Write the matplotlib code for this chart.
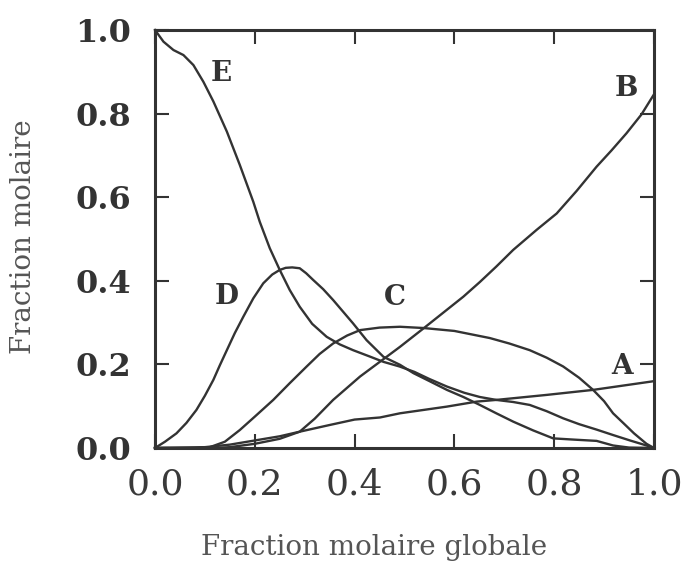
import matplotlib
matplotlib.use("Agg")
import matplotlib.pyplot as plt

# values (x = fraction molaire globale)
e_x = [0, 0.017, 0.037, 0.057, 0.077, 0.097, 0.117, 0.144, 0.17, 0.197, 0.21, 0.23, 0.25,
       0.27, 0.29, 0.315, 0.344, 0.37, 0.397, 0.43, 0.458, 0.49, 0.52, 0.55, 0.585, 0.62,
       0.651, 0.684, 0.718, 0.751, 0.785, 0.818, 0.85, 0.885, 0.918, 0.952, 0.985, 1.0]
e_y = [1.0, 0.972, 0.952, 0.940, 0.916, 0.876, 0.829, 0.757, 0.677, 0.589, 0.541, 0.478, 0.426,
       0.378, 0.338, 0.297, 0.266, 0.248, 0.234, 0.219, 0.206, 0.195, 0.182, 0.165, 0.147, 0.132,
       0.122, 0.115, 0.110, 0.103, 0.088, 0.071, 0.057, 0.044, 0.031, 0.018, 0.006, 0.0]

d_x = [0, 0.02, 0.043, 0.063, 0.083, 0.1, 0.117, 0.13, 0.144, 0.16, 0.177, 0.197, 0.217, 0.235,
       0.25, 0.262, 0.275, 0.29, 0.303, 0.317, 0.337, 0.357, 0.377, 0.397, 0.424, 0.458, 0.491,
       0.518, 0.55, 0.585, 0.618, 0.651, 0.684, 0.718, 0.758, 0.798, 0.84, 0.885, 0.918, 0.95, 1.0]
d_y = [0, 0.015, 0.035, 0.06, 0.091, 0.125, 0.163, 0.198, 0.234, 0.275, 0.314, 0.358, 0.394, 0.415,
       0.426, 0.431, 0.432, 0.43, 0.418, 0.402, 0.38, 0.354, 0.326, 0.298, 0.258, 0.218, 0.199,
       0.179, 0.16, 0.139, 0.122, 0.103, 0.083, 0.063, 0.042, 0.023, 0.02, 0.017, 0.006, 0.001, 0.0]

c_x = [0, 0.08, 0.11, 0.14, 0.17, 0.2, 0.237, 0.27, 0.304, 0.33, 0.357, 0.385, 0.411, 0.45,
       0.491, 0.538, 0.6, 0.671, 0.71, 0.751, 0.785, 0.818, 0.85, 0.878, 0.9, 0.918, 0.94,
       0.96, 0.985, 1.0]
c_y = [0, 0, 0.002, 0.015, 0.043, 0.075, 0.115, 0.155, 0.195, 0.225, 0.25, 0.269, 0.282, 0.288,
       0.29, 0.287, 0.28, 0.263, 0.25, 0.234, 0.216, 0.195, 0.168, 0.139, 0.112, 0.083, 0.058,
       0.035, 0.01, 0.0]

b_x = [0, 0.12, 0.15, 0.2, 0.25, 0.29, 0.32, 0.357, 0.411, 0.464, 0.491, 0.538, 0.578, 0.618,
       0.651, 0.684, 0.718, 0.765, 0.805, 0.845, 0.885, 0.915, 0.945, 0.975, 1.0]
b_y = [0, 0, 0.002, 0.01, 0.022, 0.039, 0.07, 0.115, 0.171, 0.218, 0.242, 0.286, 0.324, 0.362,
       0.397, 0.434, 0.474, 0.522, 0.561, 0.615, 0.673, 0.712, 0.753, 0.798, 0.846]

a_x = [0, 0.1, 0.15, 0.2, 0.25, 0.29, 0.35, 0.4, 0.451, 0.491, 0.585, 0.645, 0.684, 0.785,
       0.878, 0.995, 1.0]
a_y = [0, 0.002, 0.008, 0.018, 0.028, 0.039, 0.055, 0.068, 0.073, 0.083, 0.099, 0.111, 0.115,
       0.127, 0.139, 0.159, 0.16]

curve_names = ["E", "D", "C", "B", "A"]
label_pos = {"E": (0.133, 0.897), "D": (0.144, 0.362), "C": (0.48, 0.359),
             "B": (0.944, 0.861), "A": (0.937, 0.195)}

ticks = [0.0, 0.2, 0.4, 0.6, 0.8, 1.0]
tick_labels = ["0.0", "0.2", "0.4", "0.6", "0.8", "1.0"]

ink = "#333333"

fig = plt.figure(figsize=(6.84, 5.72), dpi=100)
ax = fig.add_axes([0.2266, 0.2168, 0.7295, 0.7308])

curves = {"E": (e_x, e_y), "D": (d_x, d_y), "C": (c_x, c_y), "B": (b_x, b_y), "A": (a_x, a_y)}
for name in curve_names:
    xs, ys = curves[name]
    ax.plot(xs, ys, color=ink, lw=1.7, solid_joinstyle="round", clip_on=False)
    lx, ly = label_pos[name]
    ax.text(lx, ly, name, ha="center", va="center", fontsize=20, fontweight="bold",
            family="DejaVu Serif", color=ink)

ax.set_xlim(0, 1)
ax.set_ylim(0, 1)
ax.set_xticks(ticks)
ax.set_yticks(ticks)
ax.set_xticklabels(tick_labels, family="DejaVu Serif", fontsize=26, color="#3a3a3a")
ax.set_yticklabels(tick_labels, family="DejaVu Serif", fontweight="bold", fontsize=23, color=ink)
ax.tick_params(direction="in", length=10, width=1.5, color=ink,
               top=True, right=True)
ax.tick_params(axis="y", pad=17)
ax.tick_params(axis="x", pad=14)
for s in ax.spines.values():
    s.set_linewidth(2.2)
    s.set_color(ink)

fig.text(0.547, 0.042, "Fraction molaire globale", family="DejaVu Serif", fontsize=20,
         color="#555555", ha="center", va="center")
fig.text(0.034, 0.587, "Fraction molaire", family="DejaVu Serif", fontsize=20,
         color="#555555", ha="center", va="center", rotation=90)

fig.savefig("out.png", dpi=100)
